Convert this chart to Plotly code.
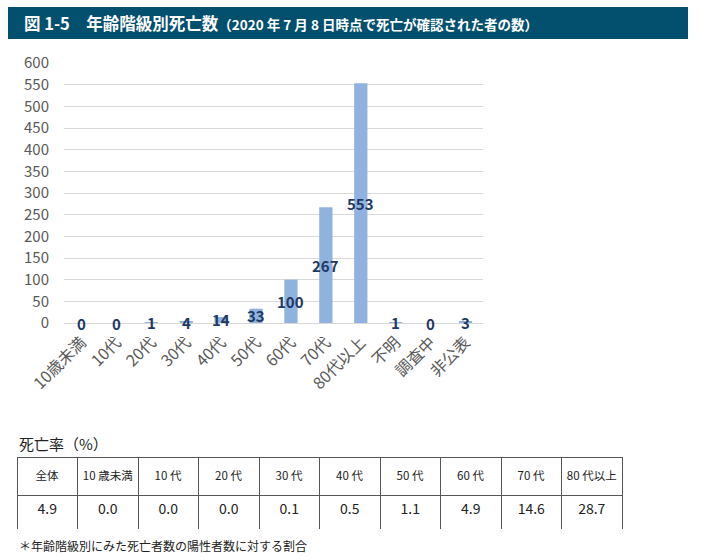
import plotly.graph_objects as go

categories = ["10歳未満", "10代", "20代", "30代", "40代", "50代", "60代", "70代", "80代以上", "不明", "調査中", "非公表"]
deaths = [0, 0, 1, 4, 14, 33, 100, 267, 553, 1, 0, 3]
y_ticks = [0, 50, 100, 150, 200, 250, 300, 350, 400, 450, 500, 550, 600]

rate_headers = ["全体", "10\u00a0歳未満", "10\u00a0代", "20\u00a0代", "30\u00a0代", "40\u00a0代", "50\u00a0代", "60\u00a0代", "70\u00a0代", "80\u00a0代以上"]
rate_values = ["4.9", "0.0", "0.0", "0.0", "0.1", "0.5", "1.1", "4.9", "14.6", "28.7"]

W, H = 702, 559
FONT = "Noto Sans CJK JP"

def px(x):
    return x / W

def py(y):
    return 1 - y / H

fig = go.Figure()

fig.add_trace(go.Bar(
    x=categories, y=deaths, marker=dict(color="#8FB3DE", line=dict(width=0)),
    width=0.38, hoverinfo="skip", showlegend=False,
))

header_text = ["\u00a0<br><span style='font-size:11.5px'>%s</span>" % h for h in rate_headers]

fig.add_trace(go.Table(
    domain=dict(x=[px(17), px(622)], y=[py(530), py(457)]),
    columnwidth=[1] * len(rate_headers),
    header=dict(values=header_text, height=38, align="center",
                fill_color="white", line=dict(color="#555555", width=1),
                font=dict(family=FONT, size=6, color="#222222")),
    cells=dict(values=[[v] for v in rate_values], height=35, align="center",
               fill_color="white", line=dict(color="#555555", width=1),
               font=dict(family=FONT, size=14, color="#222222")),
))

# data labels centred on each bar (Excel "center" position)
label_annotations = [
    dict(xref="x", yref="y", x=c, y=v / 2, text=str(v), showarrow=False,
         yshift=0, xanchor="center", yanchor="middle",
         font=dict(family=FONT, size=15, color="#1F3864", weight="bold"))
    for c, v in zip(categories, deaths)
]

fig.update_layout(
    width=W, height=H, autosize=False,
    margin=dict(l=0, r=0, t=0, b=0, pad=0),
    paper_bgcolor="white", plot_bgcolor="white",
    font=dict(family=FONT),
    bargap=0.6,
    xaxis=dict(domain=[px(64), px(483)], tickangle=-45, showgrid=False, automargin=False,
               tickfont=dict(family=FONT, size=16, color="#595959"),
               ticklabelstandoff=6,
               showline=False, ticks="", fixedrange=True),
    yaxis=dict(domain=[py(323), py(63)], range=[0, 600], tickvals=y_ticks, automargin=False,
               showgrid=True, gridcolor="#D9D9D9", gridwidth=1,
               zeroline=True, zerolinecolor="#D9D9D9", zerolinewidth=1,
               tickfont=dict(family=FONT, size=15, color="#595959"),
               ticklabelstandoff=14, ticks="", fixedrange=True),
    shapes=[dict(type="rect", xref="paper", yref="paper",
                 x0=px(8), x1=px(688), y0=py(39), y1=py(7),
                 fillcolor="#02506E", line=dict(width=0), layer="below")],
    annotations=label_annotations + [
        dict(xref="paper", yref="paper", x=px(22), y=py(23), xanchor="left", yanchor="middle",
             showarrow=False,
             text="<b>図 1-5　年齢階級別死亡数</b><b><span style='font-size:13.5px'>（2020 年 7 月 8 日時点で死亡が確認された者の数）</span></b>",
             font=dict(family=FONT, size=16.5, color="white")),
        dict(xref="paper", yref="paper", x=px(17), y=py(443), xanchor="left", yanchor="middle",
             showarrow=False, text="死亡率（%）",
             font=dict(family=FONT, size=15, color="#222222")),
        dict(xref="paper", yref="paper", x=px(17), y=py(545), xanchor="left", yanchor="middle",
             showarrow=False, text="＊年齢階級別にみた死亡者数の陽性者数に対する割合",
             font=dict(family=FONT, size=12, color="#222222")),
    ],
)

fig.write_html("out.html", config={"displayModeBar": False},
               post_script="document.body.style.margin='0';document.body.style.overflow='hidden';")
